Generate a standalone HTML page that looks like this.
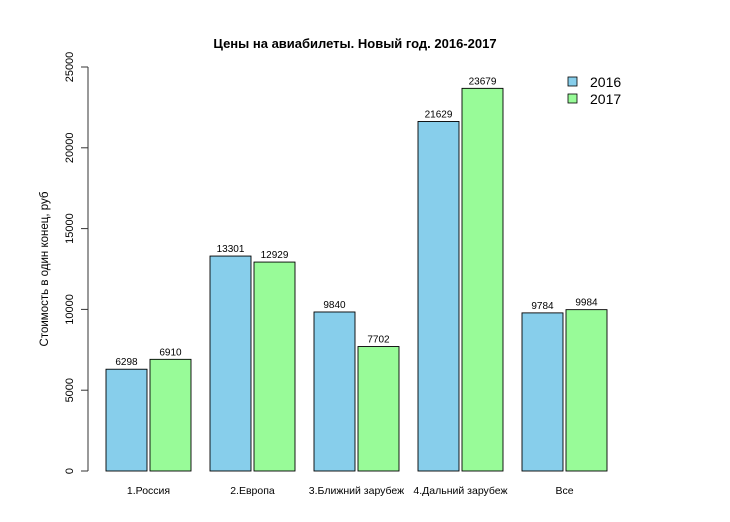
<!DOCTYPE html>
<html><head><meta charset="utf-8"><style>body{margin:0;background:#fff}svg{display:block;font-family:"Liberation Sans",Arial,sans-serif}</style></head>
<body>
<svg id="c" width="730" height="522" xmlns="http://www.w3.org/2000/svg">
<text x="355" y="48" text-anchor="middle" font-size="13" font-weight="bold">Цены  на авиабилеты. Новый год. 2016-2017</text>
<text transform="translate(48,269) rotate(-90)" text-anchor="middle" font-size="11.5">Стоимость в один конец, руб</text>
<g id="axis"></g><g id="bars"></g>
<g>
<rect x="568" y="77" width="9" height="9" fill="#87ceeb" stroke="#000" stroke-width="0.8"/>
<text x="590" y="87" font-size="14">2016</text>
<rect x="568" y="94" width="9" height="9" fill="#98fb98" stroke="#000" stroke-width="0.8"/>
<text x="590" y="104" font-size="14">2017</text>
</g>
</svg>
<script>
const categories=["1.Россия","2.Европа","3.Ближний зарубеж","4.Дальний зарубеж","Все"];
const values2016=[6298,13301,9840,21629,9784];
const values2017=[6910,12929,7702,23679,9984];
const yTicks=[0,5000,10000,15000,20000,25000];
const NS="http://www.w3.org/2000/svg";
const y=v=>471-v*(404/25000);
const gx=i=>106+i*104;
function mk(t,a,p,txt){const e=document.createElementNS(NS,t);for(const k in a)e.setAttribute(k,a[k]);if(txt!==undefined)e.textContent=txt;p.appendChild(e);return e;}
const ax=document.getElementById('axis'),bg=document.getElementById('bars');
const al=mk('line',{x1:88,x2:88,y1:y(0),y2:y(25000),stroke:'#333'},ax);


yTicks.forEach(v=>{
 const l=mk('line',{x1:81,x2:88,y1:y(v),y2:y(v),stroke:'#333'},ax);
 
 
 const t=mk('text',{transform:`translate(73,${y(v)}) rotate(-90)`,'text-anchor':'middle','font-size':11},ax,String(v));
 
 
});
categories.forEach((c,i)=>{
 [[values2016,'#87ceeb',0,'2016'],[values2017,'#98fb98',44,'2017']].forEach(([arr,col,off,s])=>{
  const v=arr[i],x=gx(i)+off;
  const r=mk('rect',{x:x,y:y(v),width:41,height:y(0)-y(v),fill:col,stroke:'#000','stroke-width':0.9},bg);
  
  
  const t=mk('text',{x:x+20.5,y:y(v)-4,'text-anchor':'middle','font-size':10},bg,String(v));
  
  
 });
 const t=mk('text',{x:gx(i)+42.5,y:494,'text-anchor':'middle','font-size':10.5},bg,c);
 
 
});
</script>
</body></html>
